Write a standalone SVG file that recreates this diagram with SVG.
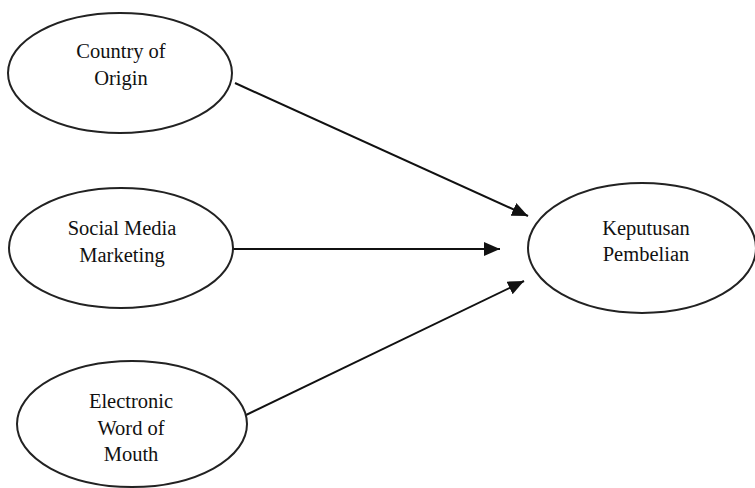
<svg xmlns="http://www.w3.org/2000/svg" width="755" height="488" viewBox="0 0 755 488">
<defs>
<style>
.node ellipse{fill:#fff;stroke:#222;stroke-width:2}
.node text{font-family:"Liberation Serif","Times New Roman",serif;font-size:20.5px;fill:#111;text-anchor:middle}
.conn line{stroke:#111;stroke-width:2;fill:none}
</style>
<marker id="ah" markerUnits="userSpaceOnUse" markerWidth="18" markerHeight="14" refX="16" refY="7" orient="auto">
<path d="M0,0 L16,7 L0,14 Z" fill="#111"/>
</marker>
</defs>
<rect width="755" height="488" fill="#fff"/>
<g id="connectors" class="conn">
<line x1="235" y1="83" x2="528" y2="216" marker-end="url(#ah)"/>
<line x1="233" y1="249" x2="500" y2="249" marker-end="url(#ah)"/>
<line x1="244" y1="416" x2="524" y2="281" marker-end="url(#ah)"/>
</g>
<g id="country-of-origin" class="node">
<ellipse cx="120" cy="73" rx="112" ry="60"/>
<text x="121" y="58">Country of</text>
<text x="121" y="85">Origin</text>
</g>
<g id="social-media-marketing" class="node">
<ellipse cx="121" cy="248" rx="112" ry="60"/>
<text x="122" y="235">Social Media</text>
<text x="122" y="262">Marketing</text>
</g>
<g id="electronic-word-of-mouth" class="node">
<ellipse cx="132" cy="424" rx="115" ry="63"/>
<text x="131" y="408">Electronic</text>
<text x="131" y="435">Word of</text>
<text x="131" y="461">Mouth</text>
</g>
<g id="keputusan-pembelian" class="node">
<ellipse cx="642" cy="248" rx="114" ry="65"/>
<text x="646" y="235">Keputusan</text>
<text x="646" y="261">Pembelian</text>
</g>
</svg>
